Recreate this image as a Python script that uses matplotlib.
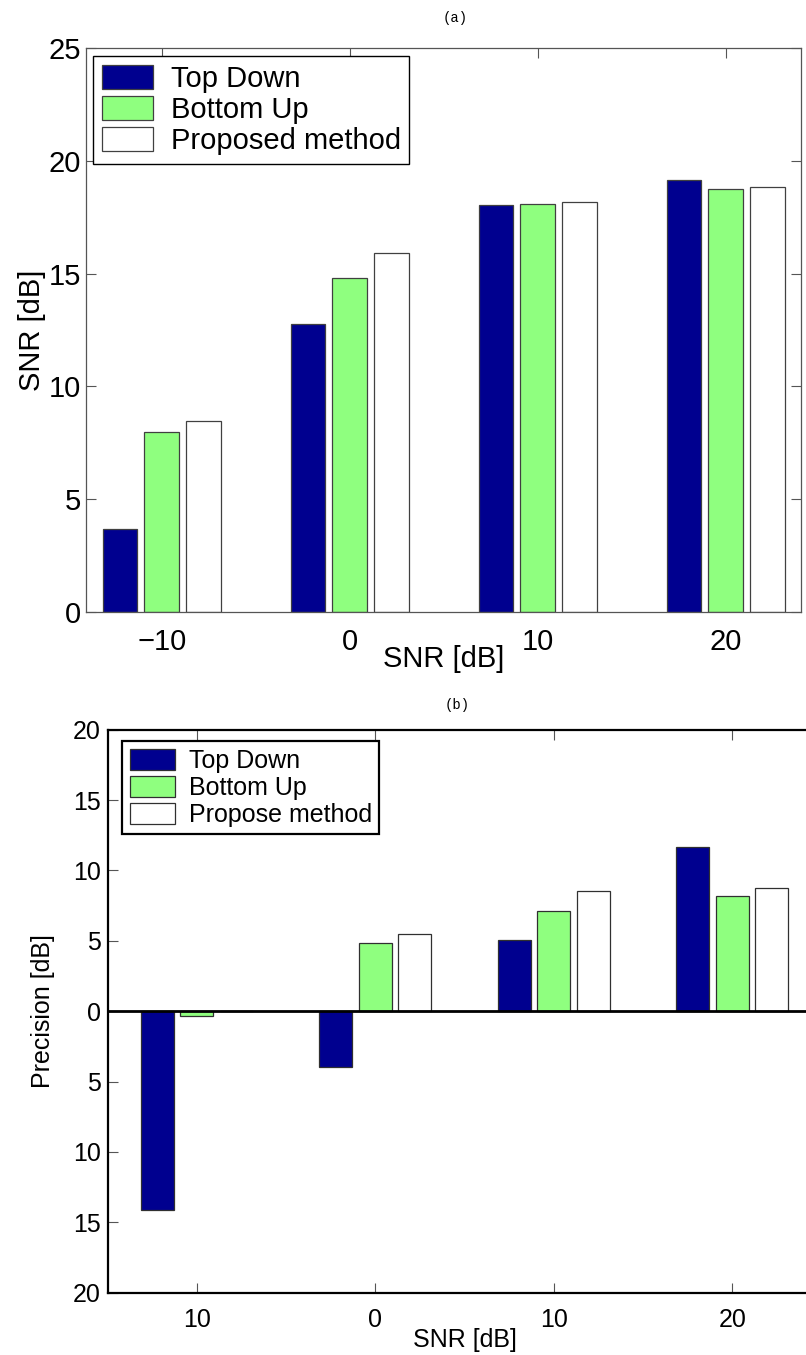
import matplotlib
matplotlib.use('Agg')
import matplotlib.pyplot as plt
import numpy as np

# input SNR levels (x positions of the groups)
snr_levels = [-10, 0, 10, 20]
series_names_a = ['Top Down', 'Bottom Up', 'Proposed method']
series_names_b = ['Top Down', 'Bottom Up', 'Propose method']

# (a) output SNR
snr_top_down = [3.67, 12.77, 18.06, 19.17]
snr_bottom_up = [7.95, 14.81, 18.09, 18.75]
snr_proposed = [8.44, 15.90, 18.17, 18.84]

# (b) precision
prec_top_down = [-14.16, -3.96, 5.08, 11.65]
prec_bottom_up = [-0.36, 4.82, 7.14, 8.21]
prec_proposed = [0.0, 5.51, 8.56, 8.75]

# tick labels as printed in the figure
xticklabels_a = ['\u221210', '0', '10', '20']
yticks_a = [0, 5, 10, 15, 20, 25]
xticklabels_b = ['10', '0', '10', '20']
yticks_b = [-20, -15, -10, -5, 0, 5, 10, 15, 20]
yticklabels_b = ['20', '15', '10', '5', '0', '5', '10', '15', '20']

colors = ['#00008f', '#8fff7f', '#ffffff']
offset = 2.22
width = 1.85

plt.rcParams['font.family'] = ['Liberation Sans', 'DejaVu Sans']

fig = plt.figure(figsize=(8.06, 13.55), dpi=100)

# ---------------- (a) ----------------
ax1 = fig.add_axes([0.1073, 0.5486, 0.8865, 0.4158])
x = np.array(snr_levels, dtype=float)
for i, (vals, name) in enumerate(zip([snr_top_down, snr_bottom_up, snr_proposed], series_names_a)):
    ax1.bar(x + (i - 1) * offset, vals, width, color=colors[i], edgecolor='#404040',
            linewidth=0.9, label=name, zorder=2)
ax1.set_xlim(-14, 24)
ax1.set_ylim(0, 25)
ax1.set_xticks(snr_levels)
ax1.set_xticklabels(xticklabels_a)
ax1.set_yticks(yticks_a)
ax1.tick_params(direction='in', length=7, width=0.8, color='#555555', labelsize=21,
                top=True, right=True, pad=4)
ax1.tick_params(axis='x', pad=12)
for s in ax1.spines.values():
    s.set_color('#555555')
    s.set_linewidth(0.9)
ax1.set_xlabel('SNR [dB]', fontsize=21)
ax1.xaxis.set_label_coords(0.5, -0.06)
ax1.set_ylabel('SNR [dB]', fontsize=21)
ax1.yaxis.set_label_coords(-0.057, 0.5)
leg1 = ax1.legend(loc='upper left', bbox_to_anchor=(0.0095, 0.986), fontsize=21,
                  fancybox=False, edgecolor='k', framealpha=1, handlelength=1.75,
                  handleheight=0.9, handletextpad=0.6, labelspacing=0.1,
                  borderpad=0.3, borderaxespad=0)
leg1.get_frame().set_linewidth(1.0)

# ---------------- (b) ----------------
ax2 = fig.add_axes([0.1334, 0.0460, 0.8859, 0.4155])
for i, (vals, name) in enumerate(zip([prec_top_down, prec_bottom_up, prec_proposed], series_names_b)):
    ax2.bar(x + (i - 1) * offset, vals, width, color=colors[i], edgecolor='#303030',
            linewidth=0.9, label=name, zorder=2)
ax2.axhline(0, color='k', linewidth=2, zorder=3)
ax2.set_xlim(-15, 25)
ax2.set_ylim(-20, 20)
ax2.set_xticks(snr_levels)
ax2.set_xticklabels(xticklabels_b)
ax2.set_yticks(yticks_b)
ax2.set_yticklabels(yticklabels_b)
ax2.tick_params(direction='in', length=7, width=0.8, color='#555555', labelsize=18,
                top=True, right=True, pad=5)
ax2.tick_params(axis='x', pad=11)
for s in ax2.spines.values():
    s.set_color('k')
    s.set_linewidth(1.6)
ax2.set_xlabel('SNR [dB]', fontsize=18)
ax2.xaxis.set_label_coords(0.5, -0.062)
ax2.set_ylabel('Precision [dB]', fontsize=18)
ax2.yaxis.set_label_coords(-0.073, 0.5)
leg2 = ax2.legend(loc='upper left', bbox_to_anchor=(0.0207, 0.979), fontsize=18,
                  fancybox=False, edgecolor='k', framealpha=1, handlelength=1.8,
                  handleheight=0.9, handletextpad=0.55, labelspacing=0.12,
                  borderpad=0.3, borderaxespad=0)
leg2.get_frame().set_linewidth(1.6)

# panel captions
fig.text(455 / 806, 1 - 18 / 1355, '(a)', fontsize=10, family='Liberation Mono',
         ha='center', va='center')
fig.text(457 / 806, 1 - 705 / 1355, '(b)', fontsize=10, family='Liberation Mono',
         ha='center', va='center')

fig.savefig('out.png', dpi=100)
